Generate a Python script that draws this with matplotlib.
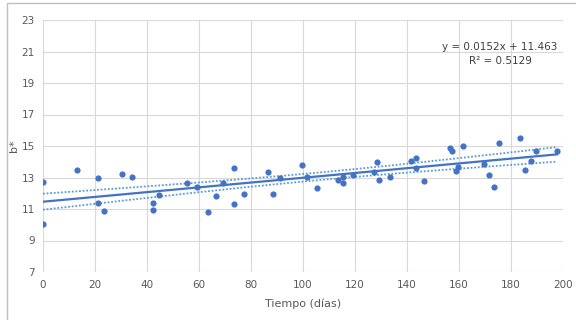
import numpy as np
import matplotlib.pyplot as plt
from matplotlib.patches import Rectangle

# Messpunkte: Tiempo (días) und b*
tiempo = [0, 0, 13.1, 21.2, 21, 23.5, 30.4, 34.2, 42.3, 42.3, 44.6, 55.4, 59.2,
          63.6, 66.5, 69.1, 73.3, 73.3, 77.3, 86.5, 88.6, 91.3, 99.5, 101.5,
          105.4, 113.3, 115.5, 115.5, 119.3, 127.4, 128.5, 129.4, 133.5,
          141.5, 143.6, 143.6, 146.5, 156.5, 157.4, 158.7, 159.5, 161.7,
          169.5, 171.5, 173.5, 175.5, 183.6, 185.5, 187.6, 189.5, 197.7]
b_star = [10.05, 12.71, 13.48, 12.97, 11.38, 10.87, 13.22, 13.03, 11.38, 10.94, 11.89, 12.65, 12.4,
          10.83, 11.84, 12.65, 13.62, 11.3, 11.97, 13.37, 11.97, 12.95, 13.81, 13.05,
          12.33, 12.86, 13.05, 12.67, 13.18, 13.33, 14.0, 12.84, 13.05,
          14.05, 14.26, 13.59, 12.78, 14.85, 14.7, 13.43, 13.68, 14.98,
          13.86, 13.16, 12.4, 15.17, 15.5, 13.48, 14.05, 14.68, 14.7]

# Trendlinie laut Gleichung im Diagramm
steigung = 0.0152
achsenabschnitt = 11.463
r2 = 0.5129

x = np.array(tiempo)
y = np.array(b_star)
xs = np.linspace(0, 197.7, 200)
trend = steigung * xs + achsenabschnitt

# Konfidenzband des Mittelwerts
n = len(x)
resid = y - (steigung * x + achsenabschnitt)
s = np.sqrt(np.sum(resid ** 2) / (n - 2))
sxx = np.sum((x - x.mean()) ** 2)
band = 2.01 * s * np.sqrt(1 / n + (xs - x.mean()) ** 2 / sxx)

blau = "#4472C4"
hellblau = "#5B9BD5"
grau = "#595959"

fig = plt.figure(figsize=(5.76, 3.2), dpi=100)
ax = fig.add_axes([43 / 576, 1 - 272 / 320, 520 / 576, 252 / 320])

ax.plot(xs, trend, color=blau, lw=1.6, zorder=3)
ax.plot(xs, trend + band, color=hellblau, lw=1.3, ls=(0, (1, 1)), zorder=3)
ax.plot(xs, trend - band, color=hellblau, lw=1.3, ls=(0, (1, 1)), zorder=3)
ax.scatter(x, y, s=20, color=blau, zorder=4, linewidths=0)

ax.set_xlim(0, 200)
ax.set_ylim(7, 23)
ax.set_xticks(range(0, 201, 20))
ax.set_yticks(range(7, 24, 2))
ax.grid(True, color="#D9D9D9", lw=0.8)
ax.set_axisbelow(True)
for sp in ax.spines.values():
    sp.set_visible(False)
ax.tick_params(length=0, labelsize=7.5, colors=grau, pad=6)

ax.set_xlabel("Tiempo (días)", fontsize=8, color=grau, labelpad=6)
ax.set_ylabel("b*", fontsize=8, color=grau, labelpad=2)

ax.text(175.8, 21.29, f"y = {steigung}x + {achsenabschnitt}", ha="center", va="center",
        fontsize=7.5, color="#404040")
ax.text(175.8, 20.4, f"R² = {r2}", ha="center", va="center", fontsize=7.5, color="#404040")

# Rahmen des Diagrammbereichs
fig.patches.append(Rectangle((7 / 576, -0.1), 1.2, 1 - 3 / 320 + 0.1, transform=fig.transFigure,
                             fill=False, edgecolor="#BFBFBF", lw=1))

fig.savefig("out.png", dpi=100)
